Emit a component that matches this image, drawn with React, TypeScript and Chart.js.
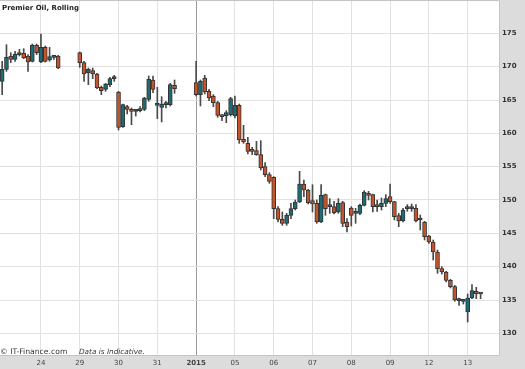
import React, { useEffect, useRef } from 'react';
import { Chart, registerables } from 'chart.js';

Chart.register(...registerables);

const _ = null;

// Trading days (each day = 9 hourly slots)
const dayLabels = ['23', '24', '29', '30', '31', '2015', '05', '06', '07', '08', '09', '12', '13'];
const SLOTS_PER_DAY = 9;
const TOTAL_SLOTS = 116;

const openValues: (number | null)[] = [
  167.8, 169.6, 171.6, 171.1, 171.8, 172.0, 171.6, 170.8, 173.2,
  170.7, 172.9, 171.0, 171.4, 171.6, _, _, _, _,
  172.1, 170.6, 169.1, 169.4, 168.9, 166.9, 166.6, 167.3, 168.2,
  166.2, 161.0, 164.0, 163.6, 163.3, 163.4, 163.6, 165.1, 168.0,
  164.2, 163.9, 164.3, 164.3, 167.2, _, _, _, _,
  167.6, 165.8, 168.3, 166.3, 165.6, 164.6, 162.6, 162.6, 162.8,
  162.6, 164.2, 159.1, 158.5, 157.4, 157.4, 156.8, 155.0, 153.8,
  153.4, 148.7, 147.1, 146.5, 147.7, 148.7, 149.7, 152.4, 151.5,
  149.9, 149.5, 146.7, 150.8, 149.0, 149.0, 148.2, 149.6, 146.7,
  148.8, 148.0, 148.0, 149.2, 151.0, 150.8, 149.1, 149.0, 149.5,
  150.5, 149.75, 147.65, 146.85, 148.7, 148.65, 148.75, 147.0, 146.7,
  144.6, 143.7, 142.2, 139.7, 139.2, 137.95, 137.0, 134.9, 134.8,
  133.2, 135.3, 136.3, 135.9, _, _, _, _,
];

const highValues: (number | null)[] = [
  170.8, 173.3, 172.1, 172.3, 172.6, 172.7, 171.8, 173.4, 173.4,
  174.9, 173.1, 172.9, 171.7, 171.7, _, _, _, _,
  172.2, 170.8, 169.8, 169.8, 169.0, 167.1, 167.5, 168.4, 168.7,
  166.3, 164.4, 164.2, 163.8, 163.6, 164.0, 165.4, 168.6, 168.6,
  166.9, 165.5, 164.8, 167.5, 168.0, _, _, _, _,
  170.8, 168.0, 168.7, 166.6, 165.8, 164.8, 162.8, 163.4, 165.4,
  165.6, 164.4, 161.2, 159.4, 157.9, 158.8, 158.9, 155.6, 154.1,
  153.5, 149.0, 148.2, 148.0, 149.5, 150.0, 154.3, 153.0, 151.6,
  152.3, 150.0, 152.3, 150.9, 150.2, 149.8, 150.2, 149.8, 147.2,
  149.0, 148.75, 149.4, 151.4, 151.3, 150.9, 150.0, 150.3, 150.8,
  152.4, 149.8, 148.0, 148.75, 149.3, 149.4, 149.3, 147.75, 146.8,
  144.7, 144.0, 142.5, 140.0, 139.3, 138.1, 137.2, 135.3, 135.1,
  135.9, 137.3, 136.9, 136.0, _, _, _, _,
];

const lowValues: (number | null)[] = [
  165.8, 169.3, 170.6, 170.8, 171.6, 171.2, 169.3, 170.7, 171.8,
  170.6, 170.7, 170.8, 171.1, 169.7, _, _, _, _,
  169.9, 167.8, 167.3, 168.2, 166.7, 165.8, 166.3, 167.0, 167.8,
  160.5, 160.9, 162.9, 161.3, 162.6, 163.2, 163.4, 164.8, 166.1,
  162.2, 161.7, 163.8, 164.1, 166.0, _, _, _, _,
  165.6, 164.1, 165.9, 164.9, 164.0, 162.4, 161.9, 161.6, 162.6,
  162.3, 158.5, 158.5, 156.9, 156.8, 156.7, 154.5, 153.5, 152.5,
  147.2, 146.7, 146.2, 146.2, 147.2, 148.5, 149.6, 150.5, 149.4,
  148.2, 146.5, 146.6, 147.7, 148.0, 147.9, 148.0, 146.0, 145.2,
  146.1, 146.5, 147.8, 149.1, 150.0, 148.2, 148.3, 148.5, 149.0,
  149.5, 147.0, 146.0, 146.7, 148.3, 148.3, 146.7, 145.5, 144.0,
  143.5, 141.0, 139.0, 138.9, 137.7, 136.8, 134.8, 134.2, 134.4,
  131.7, 135.2, 135.2, 135.2, _, _, _, _,
];

const closeValues: (number | null)[] = [
  169.6, 171.4, 171.1, 171.9, 171.9, 171.3, 170.7, 173.2, 172.1,
  172.9, 170.8, 171.5, 171.5, 169.8, _, _, _, _,
  170.6, 168.9, 169.6, 168.9, 166.8, 166.4, 167.4, 168.2, 168.35,
  160.9, 164.3, 163.6, 163.3, 163.4, 163.7, 165.3, 168.1, 166.6,
  164.3, 164.4, 164.5, 167.3, 166.7, _, _, _, _,
  165.8, 167.8, 166.2, 165.3, 164.6, 162.7, 162.5, 163.1, 165.2,
  164.2, 159.0, 158.7, 157.3, 157.3, 156.8, 154.8, 153.8, 152.8,
  148.7, 147.1, 146.5, 147.7, 148.7, 149.7, 152.4, 151.5, 149.6,
  149.4, 146.7, 150.7, 148.7, 149.1, 148.1, 149.5, 146.5, 146.0,
  147.7, 148.1, 149.2, 151.2, 150.7, 149.0, 149.0, 149.5, 150.2,
  149.75, 147.5, 146.85, 148.5, 148.8, 149.0, 146.85, 147.1, 144.5,
  143.7, 142.2, 139.7, 139.2, 137.95, 137.0, 135.0, 135.0, 134.9,
  135.3, 136.4, 135.9, 136.0, _, _, _, _,
];

const yTickValues = [130, 135, 140, 145, 150, 155, 160, 165, 170, 175];
const Y_MIN = 126.6;
const Y_MAX = 180.0;

const TITLE = 'Premier Oil, Rolling';
const COPYRIGHT = '\u00A9 IT-Finance.com';
const DISCLAIMER = 'Data is Indicative.';

const UP_COLOR = '#1d6b74';
const DOWN_COLOR = '#c4542c';
const FONT = '"DejaVu Sans", Verdana, sans-serif';

export default function App() {
  const ref = useRef<HTMLCanvasElement | null>(null);

  useEffect(() => {
    document.body.style.margin = '0';
    const canvas = ref.current;
    if (!canvas) return;

    const labels = Array.from({ length: TOTAL_SLOTS }, (_v, i) =>
      i % SLOTS_PER_DAY === 0 ? dayLabels[i / SLOTS_PER_DAY] : ''
    );
    const wicks = lowValues.map((l, i) => (l == null || highValues[i] == null ? null : [l, highValues[i] as number]));
    const bodies = openValues.map((o, i) => (o == null || closeValues[i] == null ? null : [o, closeValues[i] as number]));
    const isUp = (i: number) => (closeValues[i] ?? 0) >= (openValues[i] ?? 0);

    const framePlugin = {
      id: 'frame',
      beforeDraw(chart: any) {
        const { ctx, chartArea, width, height } = chart;
        ctx.save();
        ctx.fillStyle = '#dcdcdc';
        ctx.fillRect(0, 0, width, height);
        ctx.fillStyle = '#ffffff';
        ctx.fillRect(chartArea.left, chartArea.top, chartArea.right - chartArea.left, chartArea.bottom - chartArea.top);
        ctx.restore();
      },
      afterDraw(chart: any) {
        const { ctx, chartArea } = chart;
        ctx.save();
        ctx.strokeStyle = '#c4c4c4';
        ctx.lineWidth = 1;
        ctx.beginPath();
        ctx.moveTo(chartArea.left, chartArea.top + 0.5);
        ctx.lineTo(chartArea.right - 0.5, chartArea.top + 0.5);
        ctx.lineTo(chartArea.right - 0.5, chartArea.bottom - 0.5);
        ctx.lineTo(chartArea.left, chartArea.bottom - 0.5);
        ctx.stroke();

        ctx.fillStyle = '#222';
        ctx.textBaseline = 'alphabetic';
        ctx.textAlign = 'left';
        ctx.font = `bold 7px ${FONT}`;
        ctx.fillText(TITLE, 2, 10);

        ctx.fillStyle = '#333';
        ctx.font = `7.7px ${FONT}`;
        ctx.fillText(COPYRIGHT, 0, 354);
        ctx.font = `italic 7.3px ${FONT}`;
        ctx.fillText(DISCLAIMER, 79, 354);
        ctx.restore();
      },
    };

    const chart = new Chart(canvas, {
      type: 'bar',
      data: {
        labels,
        datasets: [
          {
            label: 'range',
            data: wicks as any,
            backgroundColor: '#4a4a4a',
            borderWidth: 0,
            barThickness: 1,
            grouped: false,
            order: 2,
          } as any,
          {
            label: 'body',
            data: bodies as any,
            backgroundColor: (c: any) => (isUp(c.dataIndex) ? UP_COLOR : DOWN_COLOR),
            borderColor: '#333333',
            borderWidth: 1,
            borderSkipped: false,
            barThickness: 4,
            minBarLength: 2,
            grouped: false,
            order: 1,
          } as any,
        ],
      },
      options: {
        animation: false,
        responsive: false,
        maintainAspectRatio: false,
        layout: { padding: 0 },
        plugins: {
          legend: { display: false },
          tooltip: { enabled: false },
        },
        scales: {
          x: {
            type: 'category',
            offset: true,
            grid: {
              offset: false,
              drawTicks: false,
              lineWidth: 1,
              color: (c: any) => {
                const i = c.index;
                if (i === 0 || i % SLOTS_PER_DAY !== 0) return 'rgba(0,0,0,0)';
                if (dayLabels[i / SLOTS_PER_DAY] === '2015') return '#9a9a9a';
                return '#e2e2e2';
              },
            },
            border: { display: false },
            ticks: {
              autoSkip: false,
              maxRotation: 0,
              minRotation: 0,
              padding: 3,
              color: '#444',
              font: (c: any) => ({
                family: FONT,
                size: 7,
                weight: labels[c.index] === '2015' ? 'bold' : 'normal',
              }),
              callback: (_v: any, i: number) => (i === 0 ? '' : labels[i]),
            },
            afterFit: (s: any) => {
              s.height = 13;
              s.paddingLeft = 0;
              s.paddingRight = 0;
              s.paddingTop = 0;
              s.paddingBottom = 0;
            },
          } as any,
          y: {
            position: 'right',
            min: Y_MIN,
            max: Y_MAX,
            afterBuildTicks: (s: any) => {
              s.ticks = yTickValues.map((v) => ({ value: v }));
            },
            grid: { color: '#e2e2e2', drawTicks: false, lineWidth: 1 },
            border: { display: false },
            ticks: {
              padding: 2,
              color: '#333',
              font: { family: FONT, size: 7, weight: 'bold' },
            },
            afterFit: (s: any) => {
              s.width = 25;
              s.paddingTop = 0;
              s.paddingBottom = 0;
              s.paddingLeft = 0;
              s.paddingRight = 0;
            },
          } as any,
        },
      },
      plugins: [framePlugin],
    });

    return () => chart.destroy();
  }, []);

  return (
    <div style={{ width: 525, height: 369 }}>
      <canvas ref={ref} width={525} height={369} style={{ display: 'block', width: 525, height: 369 }} />
    </div>
  );
}
